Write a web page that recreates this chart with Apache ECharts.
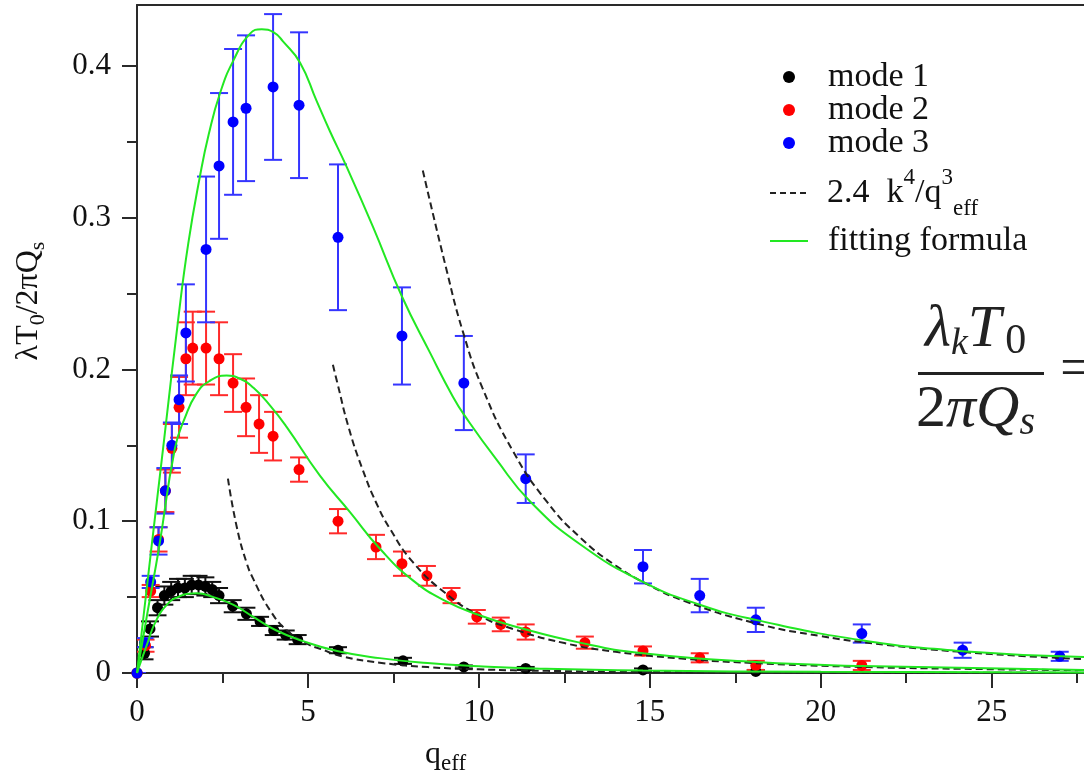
<!DOCTYPE html>
<html>
<head>
<meta charset="utf-8">
<script src="https://cdn.jsdelivr.net/npm/echarts@6/dist/echarts.min.js"></script>
<style>
  html, body { margin: 0; padding: 0; background: #ffffff; }
  #chart { width: 1084px; height: 780px; }
</style>
</head>
<body>
<div id="chart"></div>
<script>
// ---- measured eigenvalues, mode 1 ----
const mode1Q   = [0, 0.22, 0.38, 0.6, 0.8, 1.0, 1.2, 1.4, 1.6, 1.8, 2.0, 2.2, 2.4, 2.8, 3.2, 3.6, 4.0, 4.35, 4.7, 5.88, 7.78, 9.56, 11.37, 14.8, 18.1];
const mode1Val = [0, 0.013, 0.029, 0.043, 0.051, 0.054, 0.056, 0.056, 0.058, 0.058, 0.057, 0.055, 0.051, 0.044, 0.039, 0.034, 0.028, 0.025, 0.022, 0.015, 0.008, 0.004, 0.003, 0.002, 0.001];
const mode1Err = [0, 0.004, 0.005, 0.005, 0.006, 0.006, 0.006, 0.006, 0.006, 0.006, 0.006, 0.005, 0.005, 0.004, 0.004, 0.003, 0.003, 0.003, 0.003, 0.002, 0.002, 0.001, 0.001, 0.001, 0.001];

// ---- mode 2 ----
const mode2Q   = [0, 0.25, 0.4, 0.63, 0.83, 1.02, 1.23, 1.43, 1.63, 2.02, 2.4, 2.81, 3.19, 3.57, 3.98, 4.74, 5.88, 6.99, 7.75, 8.48, 9.2, 9.94, 10.64, 11.37, 13.1, 14.8, 16.46, 18.1, 21.2];
const mode2Val = [0, 0.018, 0.054, 0.088, 0.120, 0.148, 0.175, 0.207, 0.214, 0.214, 0.207, 0.191, 0.175, 0.164, 0.156, 0.134, 0.100, 0.083, 0.072, 0.064, 0.051, 0.037, 0.032, 0.027, 0.020, 0.0145, 0.010, 0.005, 0.005];
const mode2Err = [0, 0.004, 0.004, 0.008, 0.014, 0.016, 0.020, 0.024, 0.024, 0.024, 0.024, 0.019, 0.019, 0.019, 0.016, 0.008, 0.008, 0.008, 0.008, 0.0065, 0.005, 0.0045, 0.0045, 0.005, 0.004, 0.003, 0.003, 0.003, 0.003];

// ---- mode 3 ----
const mode3Q   = [0, 0.22, 0.4, 0.63, 0.83, 1.02, 1.23, 1.43, 2.02, 2.4, 2.81, 3.19, 3.98, 4.74, 5.88, 7.75, 9.56, 11.37, 14.8, 16.46, 18.1, 21.2, 24.15, 26.99];
const mode3Val = [0, 0.020, 0.060, 0.087, 0.120, 0.150, 0.180, 0.224, 0.279, 0.334, 0.363, 0.372, 0.386, 0.374, 0.287, 0.222, 0.191, 0.128, 0.070, 0.051, 0.035, 0.026, 0.015, 0.011];
const mode3Err = [0, 0.003, 0.004, 0.009, 0.015, 0.015, 0.016, 0.032, 0.048, 0.048, 0.048, 0.048, 0.048, 0.048, 0.048, 0.032, 0.031, 0.016, 0.011, 0.011, 0.008, 0.006, 0.005, 0.003];

// ---- asymptote 2.4 k^4 / q_eff^3, one branch per mode ----
const dash1Q   = [2.66, 2.92, 3.2, 3.4, 3.9, 4.39, 5.0, 5.35, 6.0, 7.1, 8.5, 10, 12, 15, 19, 23, 27.7];
const dash1Val = [0.128, 0.096, 0.073, 0.062, 0.041, 0.028, 0.019, 0.016, 0.011, 0.0068, 0.0039, 0.0024, 0.0014, 0.0007, 0.00035, 0.0002, 0.00011];
const dash2Q   = [5.73, 5.85, 6.2, 6.6, 7.0, 7.4, 8.07, 9.0, 10.0, 11.0, 12.5, 14.0, 16.0, 18.0, 21.0, 24.0, 27.7];
const dash2Val = [0.203, 0.192, 0.161, 0.134, 0.112, 0.095, 0.073, 0.053, 0.038, 0.029, 0.0197, 0.014, 0.0094, 0.0066, 0.0041, 0.0028, 0.0018];
const dash3Q   = [8.36, 9.06, 9.53, 10.1, 11.0, 12.0, 13.0, 14.0, 15.0, 16.0, 18.0, 20.0, 22.0, 24.0, 26.0, 27.7];
const dash3Val = [0.331, 0.265, 0.225, 0.188, 0.146, 0.1125, 0.0885, 0.0708, 0.0576, 0.0475, 0.0333, 0.0243, 0.0183, 0.0141, 0.0111, 0.0091];

// ---- fitting formula curves ----
const fit1Q   = [0, 0.28, 0.57, 0.96, 1.2, 1.45, 1.75, 2.23, 2.81, 3.4, 4.08, 4.86, 5.85, 7.1, 8.5, 10, 11.37, 14.8, 20, 27.7];
const fit1Val = [0, 0.018, 0.035, 0.047, 0.050, 0.052, 0.0525, 0.050, 0.045, 0.037, 0.028, 0.021, 0.0145, 0.0098, 0.0066, 0.0045, 0.0032, 0.0016, 0.0008, 0.0004];
const fit2Q   = [0, 0.3, 0.64, 1.11, 1.4, 1.74, 2.1, 2.62, 3.0, 3.4, 3.9, 4.38, 5.35, 6.23, 7.1, 8.07, 9.06, 10.03, 11.0, 12.95, 14.8, 18.1, 21.2, 27.7];
const fit2Val = [0, 0.039, 0.082, 0.148, 0.168, 0.184, 0.192, 0.196, 0.194, 0.188, 0.176, 0.162, 0.130, 0.106, 0.082, 0.061, 0.047, 0.038, 0.031, 0.020, 0.013, 0.0072, 0.0046, 0.002];
const fit3Q   = [0, 0.43, 0.8, 1.2, 1.5, 1.84, 2.1, 2.43, 2.81, 3.3, 3.65, 4.0, 4.27, 4.77, 5.25, 5.64, 6.14, 6.9, 7.75, 8.57, 9.24, 9.6, 10.5, 11.5, 12.95, 14.8, 16.46, 18.1, 21.2, 24.15, 27.7];
const fit3Val = [0, 0.084, 0.155, 0.232, 0.283, 0.327, 0.355, 0.382, 0.403, 0.421, 0.424, 0.422, 0.416, 0.402, 0.377, 0.357, 0.333, 0.294, 0.248, 0.211, 0.182, 0.169, 0.141, 0.113, 0.085, 0.060, 0.045, 0.035, 0.0216, 0.0144, 0.0105];

// ---- axis ticks ----
const xMajorTicks = [0, 5, 10, 15, 20, 25];
const xMinorTicks = [2.5, 7.5, 12.5, 17.5, 22.5, 27.5];
const yMajorTicks = [0, 0.1, 0.2, 0.3, 0.4];
const yMinorTicks = [0.05, 0.15, 0.25, 0.35];

const SERIF = '"Liberation Serif", "Times New Roman", serif';
const AXIS_COLOR = '#2a2a2a';
const GREEN = '#22e822';
const DASH_COLOR = '#222222';
const DASH_NAME = 'asymptote';
const FIT_NAME = 'fitting formula';

const pairs = (q, v) => q.map((x, i) => [x, v[i]]);
const bars = (q, v, e) => q.map((x, i) => [x, v[i] - e[i], v[i] + e[i]]);

// vertical error bar with caps, placed through the cartesian coordinate system
function errorBarItem(params, api) {
  const x = api.value(0);
  const lo = api.coord([x, api.value(1)]);
  const hi = api.coord([x, api.value(2)]);
  const half = 9;
  const style = { stroke: api.visual('color'), lineWidth: 2 };
  return {
    type: 'group',
    children: [
      { type: 'line', shape: { x1: lo[0], y1: lo[1], x2: hi[0], y2: hi[1] }, style },
      { type: 'line', shape: { x1: lo[0] - half, y1: lo[1], x2: lo[0] + half, y2: lo[1] }, style },
      { type: 'line', shape: { x1: hi[0] - half, y1: hi[1], x2: hi[0] + half, y2: hi[1] }, style }
    ]
  };
}

function errorSeries(q, v, e, color) {
  return {
    type: 'custom', name: 'err', renderItem: errorBarItem, clip: true, z: 2,
    itemStyle: { color }, encode: { x: 0, y: [1, 2] },
    data: bars(q, v, e), silent: true
  };
}
function pointSeries(name, q, v, color) {
  return {
    type: 'scatter', name, data: pairs(q, v), symbol: 'circle', symbolSize: 11, z: 3,
    itemStyle: { color, opacity: 1 }, clip: true
  };
}
function curveSeries(name, q, v, color, dashed) {
  return {
    type: 'line', name, data: pairs(q, v), smooth: 0.5,
    symbol: 'none', showSymbol: false, z: 4, clip: true,
    itemStyle: { color },
    lineStyle: { color, width: 2, type: dashed ? [7, 4] : 'solid' }
  };
}

const legendText = { fontFamily: SERIF, fontSize: 34, color: '#111', lineHeight: 34 };
const dotLegend = (top, name) => ({
  orient: 'vertical', left: 783, top, padding: 0, itemWidth: 12, itemHeight: 12,
  selectedMode: false, icon: 'circle', data: [name],
  textStyle: Object.assign({}, legendText, { padding: [0, 0, 0, 28] })
});
const DASH_ICON = 'path://M0,0H6V2H0Z M10,0H16V2H10Z M20,0H26V2H20Z M30,0H36V2H30Z';

const option = {
  backgroundColor: '#ffffff',
  animation: false,
  grid: { left: 137, right: 0, top: 5, bottom: 105 },
  legend: [
    dotLegend(60, 'mode 1'),
    dotLegend(93, 'mode 2'),
    dotLegend(126, 'mode 3'),
    {
      orient: 'vertical', left: 770, top: 166, padding: 0, itemWidth: 38, itemHeight: 2,
      selectedMode: false, data: [{ name: DASH_NAME, icon: DASH_ICON }],
      formatter: () => '{a|2.4  k}{sup|4}{a|/q}{sup|3}{sub|eff}',
      textStyle: Object.assign({}, legendText, {
        lineHeight: 54, padding: [0, 0, 0, 15],
        rich: {
          a: { fontFamily: SERIF, fontSize: 34, color: '#111', lineHeight: 54 },
          sup: { fontFamily: SERIF, fontSize: 23, color: '#111', lineHeight: 24, verticalAlign: 'top' },
          sub: { fontFamily: SERIF, fontSize: 23, color: '#111', lineHeight: 22, verticalAlign: 'bottom' }
        }
      })
    },
    {
      orient: 'vertical', left: 770, top: 224, padding: 0, itemWidth: 38, itemHeight: 2,
      selectedMode: false, data: [{ name: FIT_NAME, icon: 'rect' }],
      textStyle: Object.assign({}, legendText, { padding: [0, 0, 0, 15] })
    }
  ],
  xAxis: [
    {
      type: 'value', min: 0, max: 27.7, position: 'bottom',
      axisLine: { show: true, onZero: false, lineStyle: { color: AXIS_COLOR, width: 2 } },
      axisTick: { show: true, length: 15, customValues: xMajorTicks, lineStyle: { color: AXIS_COLOR, width: 2 } },
      axisLabel: { customValues: xMajorTicks, margin: 24, fontFamily: SERIF, fontSize: 31, color: '#111' },
      splitLine: { show: false },
      name: '{a|q}{b|eff}', nameLocation: 'middle', nameGap: 62,
      nameTextStyle: {
        padding: [0, 330, 0, 0],
        rich: {
          a: { fontFamily: SERIF, fontSize: 32, color: '#111', lineHeight: 40 },
          b: { fontFamily: SERIF, fontSize: 23, color: '#111', lineHeight: 24, verticalAlign: 'bottom' }
        }
      }
    },
    {
      type: 'value', min: 0, max: 27.7, position: 'bottom',
      axisLine: { show: false },
      axisTick: { show: true, length: 10, customValues: xMinorTicks, lineStyle: { color: AXIS_COLOR, width: 2 } },
      axisLabel: { show: false }, splitLine: { show: false }
    },
    {
      type: 'value', min: 0, max: 27.7, position: 'top',
      axisLine: { show: true, onZero: false, lineStyle: { color: AXIS_COLOR, width: 2 } },
      axisTick: { show: false }, axisLabel: { show: false }, splitLine: { show: false }
    }
  ],
  yAxis: [
    {
      type: 'value', min: 0, max: 0.44, position: 'left',
      axisLine: { show: true, onZero: false, lineStyle: { color: AXIS_COLOR, width: 2 } },
      axisTick: { show: true, length: 15, customValues: yMajorTicks, lineStyle: { color: AXIS_COLOR, width: 2 } },
      axisLabel: {
        customValues: yMajorTicks, margin: 26, fontFamily: SERIF, fontSize: 31, color: '#111',
        formatter: (v) => (v === 0 ? '0' : v.toFixed(1))
      },
      splitLine: { show: false },
      name: '{a|λT}{b|0}{a|/2πQ}{b|s}', nameLocation: 'middle', nameRotate: 90, nameGap: 88,
      nameTextStyle: {
        padding: [0, 0, 0, 76],
        rich: {
          a: { fontFamily: SERIF, fontSize: 32, color: '#111', lineHeight: 40 },
          b: { fontFamily: SERIF, fontSize: 22, color: '#111', lineHeight: 22, verticalAlign: 'bottom' }
        }
      }
    },
    {
      type: 'value', min: 0, max: 0.44, position: 'left',
      axisLine: { show: false },
      axisTick: { show: true, length: 10, customValues: yMinorTicks, lineStyle: { color: AXIS_COLOR, width: 2 } },
      axisLabel: { show: false }, splitLine: { show: false }
    }
  ],
  graphic: [
    {
      type: 'text', left: 925, top: 300, z: 10,
      style: {
        text: '{i|λ}{s|k}{i|T}{n| }{s0|0}',
        rich: {
          i: { fontFamily: SERIF, fontStyle: 'italic', fontSize: 60, fill: '#222', lineHeight: 66 },
          s: { fontFamily: SERIF, fontStyle: 'italic', fontSize: 38, fill: '#222', lineHeight: 44, verticalAlign: 'bottom' },
          n: { fontFamily: SERIF, fontSize: 16, fill: '#222', lineHeight: 66 },
          s0: { fontFamily: SERIF, fontSize: 42, fill: '#222', lineHeight: 47, verticalAlign: 'bottom' }
        }
      }
    },
    { type: 'rect', left: 918, top: 372, z: 10, shape: { width: 126, height: 3 }, style: { fill: '#222' } },
    {
      type: 'text', left: 916, top: 380, z: 10,
      style: {
        text: '{n|2}{i|πQ}{s|s}',
        rich: {
          n: { fontFamily: SERIF, fontSize: 60, fill: '#222', lineHeight: 66 },
          i: { fontFamily: SERIF, fontStyle: 'italic', fontSize: 60, fill: '#222', lineHeight: 66 },
          s: { fontFamily: SERIF, fontStyle: 'italic', fontSize: 40, fill: '#222', lineHeight: 44, verticalAlign: 'bottom' }
        }
      }
    },
    {
      type: 'text', left: 1060, top: 342, z: 10,
      style: { text: '=', fontFamily: SERIF, fontSize: 58, fill: '#222' }
    }
  ],
  series: [
    errorSeries(mode1Q, mode1Val, mode1Err, '#111111'),
    pointSeries('mode 1', mode1Q, mode1Val, '#000000'),
    errorSeries(mode2Q, mode2Val, mode2Err, '#ff2a2a'),
    pointSeries('mode 2', mode2Q, mode2Val, '#ff0000'),
    errorSeries(mode3Q, mode3Val, mode3Err, '#3535ff'),
    pointSeries('mode 3', mode3Q, mode3Val, '#0000ff'),
    curveSeries(DASH_NAME, dash1Q, dash1Val, DASH_COLOR, true),
    curveSeries(DASH_NAME, dash2Q, dash2Val, DASH_COLOR, true),
    curveSeries(DASH_NAME, dash3Q, dash3Val, DASH_COLOR, true),
    curveSeries(FIT_NAME, fit1Q, fit1Val, GREEN, false),
    curveSeries(FIT_NAME, fit2Q, fit2Val, GREEN, false),
    curveSeries(FIT_NAME, fit3Q, fit3Val, GREEN, false)
  ]
};

const chart = echarts.init(document.getElementById('chart'), null, { renderer: 'canvas' });
chart.setOption(option);
</script>
</body>
</html>
